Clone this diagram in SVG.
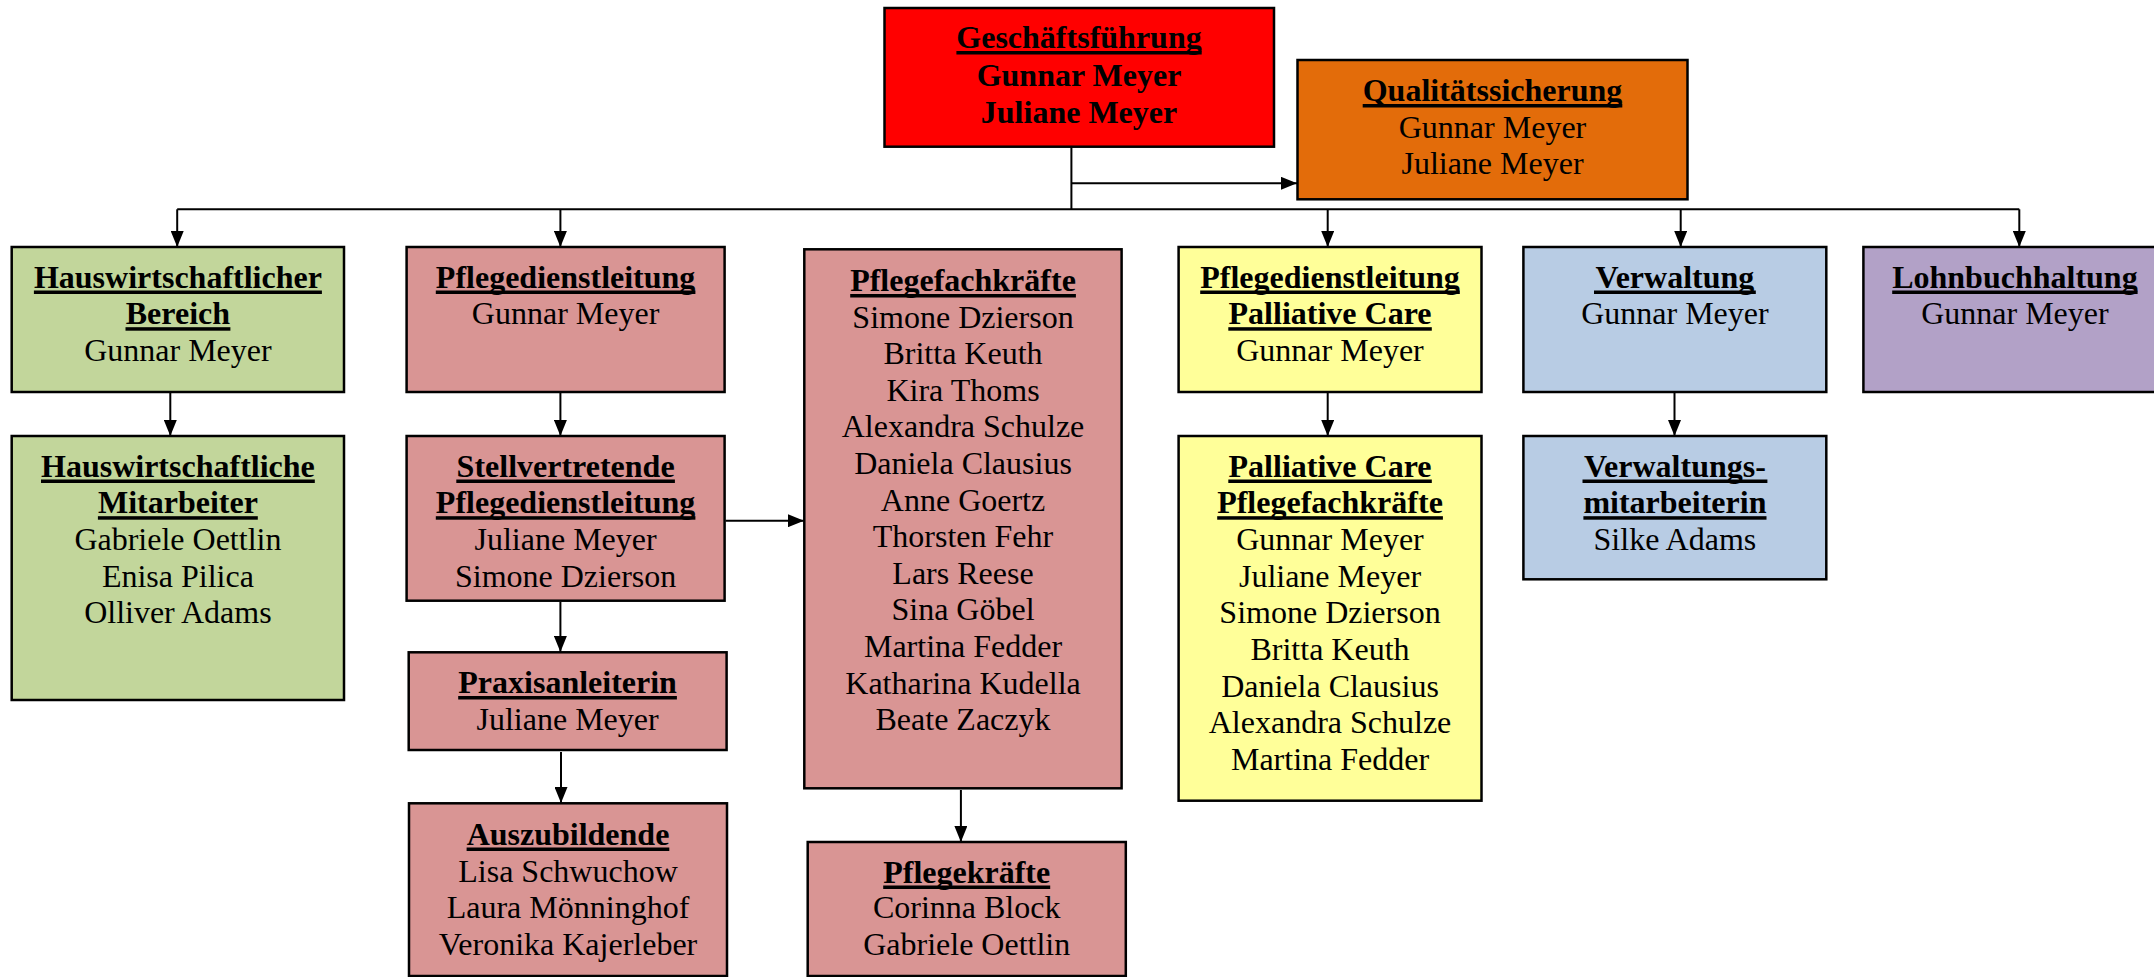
<svg xmlns="http://www.w3.org/2000/svg" width="2154" height="977" viewBox="0 0 2154 977">
<style>
.box{stroke:#000;stroke-width:2.5}
text{font-family:"Liberation Serif","Times New Roman",serif;font-size:32px;text-anchor:middle;fill:#000}
.b{font-weight:bold}
.ul{fill:#000}
.c{stroke:#000;stroke-width:2;fill:none}
</style>
<defs>
<marker id="ah" markerUnits="userSpaceOnUse" markerWidth="16" markerHeight="13" refX="16" refY="6.5" orient="auto">
<path d="M0,0 L16,6.5 L0,13 z" fill="#000"/>
</marker>
</defs>
<rect width="2154" height="977" fill="#fff"/>

<g id="connectors">
<path class="c" d="M1071.4,147 V209.3"/>
<path class="c" d="M1071.4,183.3 H1297" marker-end="url(#ah)"/>
<path class="c" d="M177.2,209.3 H2019.3"/>
<path class="c" d="M177.2,209.3 V247" marker-end="url(#ah)"/>
<path class="c" d="M560.4,209.3 V247" marker-end="url(#ah)"/>
<path class="c" d="M1327.7,209.3 V247" marker-end="url(#ah)"/>
<path class="c" d="M1680.7,209.3 V247" marker-end="url(#ah)"/>
<path class="c" d="M2019.3,209.3 V247" marker-end="url(#ah)"/>
<path class="c" d="M170.3,393 V436" marker-end="url(#ah)"/>
<path class="c" d="M560.4,393 V436" marker-end="url(#ah)"/>
<path class="c" d="M725.5,520.7 H804" marker-end="url(#ah)"/>
<path class="c" d="M560.4,602 V652" marker-end="url(#ah)"/>
<path class="c" d="M561,752 V803" marker-end="url(#ah)"/>
<path class="c" d="M960.9,790 V842" marker-end="url(#ah)"/>
<path class="c" d="M1327.7,393 V436" marker-end="url(#ah)"/>
<path class="c" d="M1674.5,393 V436" marker-end="url(#ah)"/>
</g>

<g id="geschaeftsfuehrung">
<rect class="box" x="884.5" y="8" width="389.5" height="138.7" fill="#FF0000"/>
<text class="b" x="1079" y="48">Geschäftsführung</text>
<rect class="ul" x="956.4" y="51" width="245.3" height="3.5"/>
<text class="b" x="1079" y="85.5">Gunnar Meyer</text>
<text class="b" x="1079" y="122.5">Juliane Meyer</text>
</g>

<g id="qualitaetssicherung">
<rect class="box" x="1297.5" y="60" width="390" height="139.3" fill="#E36C0A"/>
<text class="b" x="1492.5" y="101">Qualitätssicherung</text>
<rect class="ul" x="1362.7" y="104" width="259.6" height="3.5"/>
<text x="1492.5" y="137.5">Gunnar Meyer</text>
<text x="1492.5" y="174">Juliane Meyer</text>
</g>

<g id="hauswirtschaftlicher-bereich">
<rect class="box" x="11.7" y="247" width="332.3" height="145" fill="#C2D69B"/>
<text class="b" x="177.9" y="287.5">Hauswirtschaftlicher</text>
<rect class="ul" x="33.9" y="290.5" width="288" height="3.5"/>
<text class="b" x="177.9" y="324.2">Bereich</text>
<rect class="ul" x="125.5" y="327.2" width="104.9" height="3.5"/>
<text x="177.9" y="360.9">Gunnar Meyer</text>
</g>

<g id="pflegedienstleitung">
<rect class="box" x="406.6" y="247" width="318" height="145" fill="#D99594"/>
<text class="b" x="565.6" y="287.5">Pflegedienstleitung</text>
<rect class="ul" x="435.8" y="290.5" width="259.6" height="3.5"/>
<text x="565.6" y="324.2">Gunnar Meyer</text>
</g>

<g id="pflegefachkraefte">
<rect class="box" x="804.3" y="249.3" width="317.3" height="539" fill="#D99594"/>
<text class="b" x="963" y="291">Pflegefachkräfte</text>
<rect class="ul" x="850.2" y="294" width="225.7" height="3.5"/>
<text x="963" y="327.6">Simone Dzierson</text>
<text x="963" y="364.2">Britta Keuth</text>
<text x="963" y="400.8">Kira Thoms</text>
<text x="963" y="437.4">Alexandra Schulze</text>
<text x="963" y="474">Daniela Clausius</text>
<text x="963" y="510.6">Anne Goertz</text>
<text x="963" y="547.2">Thorsten Fehr</text>
<text x="963" y="583.8">Lars Reese</text>
<text x="963" y="620.4">Sina Göbel</text>
<text x="963" y="657">Martina Fedder</text>
<text x="963" y="693.6">Katharina Kudella</text>
<text x="963" y="730.2">Beate Zaczyk</text>
</g>

<g id="pdl-palliative-care">
<rect class="box" x="1178.6" y="247" width="302.9" height="145" fill="#FFFF99"/>
<text class="b" x="1330" y="287.5">Pflegedienstleitung</text>
<rect class="ul" x="1200.2" y="290.5" width="259.6" height="3.5"/>
<text class="b" x="1330" y="324.2">Palliative Care</text>
<rect class="ul" x="1228.3" y="327.2" width="203.5" height="3.5"/>
<text x="1330" y="360.9">Gunnar Meyer</text>
</g>

<g id="verwaltung">
<rect class="box" x="1523.4" y="247" width="302.9" height="145" fill="#B8CCE4"/>
<text class="b" x="1674.9" y="287.5">Verwaltung</text>
<rect class="ul" x="1594" y="290.5" width="161.8" height="3.5"/>
<text x="1674.9" y="324.2">Gunnar Meyer</text>
</g>

<g id="lohnbuchhaltung">
<rect class="box" x="1863.4" y="247" width="303" height="145" fill="#B2A1C7"/>
<text class="b" x="2014.9" y="287.5">Lohnbuchhaltung</text>
<rect class="ul" x="1892.2" y="290.5" width="245.4" height="3.5"/>
<text x="2014.9" y="324.2">Gunnar Meyer</text>
</g>

<g id="hauswirtschaftliche-mitarbeiter">
<rect class="box" x="11.7" y="436" width="332.3" height="264" fill="#C2D69B"/>
<text class="b" x="177.9" y="476.5">Hauswirtschaftliche</text>
<rect class="ul" x="41" y="479.5" width="273.8" height="3.5"/>
<text class="b" x="177.9" y="513.2">Mitarbeiter</text>
<rect class="ul" x="97.9" y="516.2" width="159.9" height="3.5"/>
<text x="177.9" y="549.9">Gabriele Oettlin</text>
<text x="177.9" y="586.6">Enisa Pilica</text>
<text x="177.9" y="623.3">Olliver Adams</text>
</g>

<g id="stellvertretende-pdl">
<rect class="box" x="406.6" y="436" width="318" height="164.7" fill="#D99594"/>
<text class="b" x="565.6" y="476.5">Stellvertretende</text>
<rect class="ul" x="456.3" y="479.5" width="218.6" height="3.5"/>
<text class="b" x="565.6" y="513.2">Pflegedienstleitung</text>
<rect class="ul" x="435.8" y="516.2" width="259.6" height="3.5"/>
<text x="565.6" y="549.9">Juliane Meyer</text>
<text x="565.6" y="586.6">Simone Dzierson</text>
</g>

<g id="praxisanleiterin">
<rect class="box" x="408.7" y="652.3" width="317.9" height="97.7" fill="#D99594"/>
<text class="b" x="567.6" y="693">Praxisanleiterin</text>
<rect class="ul" x="458.2" y="696" width="218.7" height="3.5"/>
<text x="567.6" y="729.7">Juliane Meyer</text>
</g>

<g id="auszubildende">
<rect class="box" x="409" y="803.3" width="318" height="172.7" fill="#D99594"/>
<text class="b" x="568" y="844.5">Auszubildende</text>
<rect class="ul" x="466.6" y="847.5" width="202.7" height="3.5"/>
<text x="568" y="881.5">Lisa Schwuchow</text>
<text x="568" y="918.3">Laura Mönninghof</text>
<text x="568" y="955">Veronika Kajerleber</text>
</g>

<g id="pflegekraefte">
<rect class="box" x="807.7" y="842" width="318.1" height="134" fill="#D99594"/>
<text class="b" x="966.7" y="882.5">Pflegekräfte</text>
<rect class="ul" x="883.2" y="885.5" width="167" height="3.5"/>
<text x="966.7" y="918.3">Corinna Block</text>
<text x="966.7" y="955">Gabriele Oettlin</text>
</g>

<g id="palliative-care-pflegefachkraefte">
<rect class="box" x="1178.6" y="436" width="302.9" height="364.7" fill="#FFFF99"/>
<text class="b" x="1330" y="476.5">Palliative Care</text>
<rect class="ul" x="1228.3" y="479.5" width="203.5" height="3.5"/>
<text class="b" x="1330" y="513.2">Pflegefachkräfte</text>
<rect class="ul" x="1217.2" y="516.2" width="225.7" height="3.5"/>
<text x="1330" y="549.9">Gunnar Meyer</text>
<text x="1330" y="586.6">Juliane Meyer</text>
<text x="1330" y="623.3">Simone Dzierson</text>
<text x="1330" y="660">Britta Keuth</text>
<text x="1330" y="696.7">Daniela Clausius</text>
<text x="1330" y="733.4">Alexandra Schulze</text>
<text x="1330" y="770.1">Martina Fedder</text>
</g>

<g id="verwaltungsmitarbeiterin">
<rect class="box" x="1523.4" y="436" width="302.9" height="143.3" fill="#B8CCE4"/>
<text class="b" x="1674.9" y="476.5">Verwaltungs-</text>
<rect class="ul" x="1582.5" y="479.5" width="184.9" height="3.5"/>
<text class="b" x="1674.9" y="513.2">mitarbeiterin</text>
<rect class="ul" x="1583.4" y="516.2" width="183.1" height="3.5"/>
<text x="1674.9" y="549.9">Silke Adams</text>
</g>
</svg>
